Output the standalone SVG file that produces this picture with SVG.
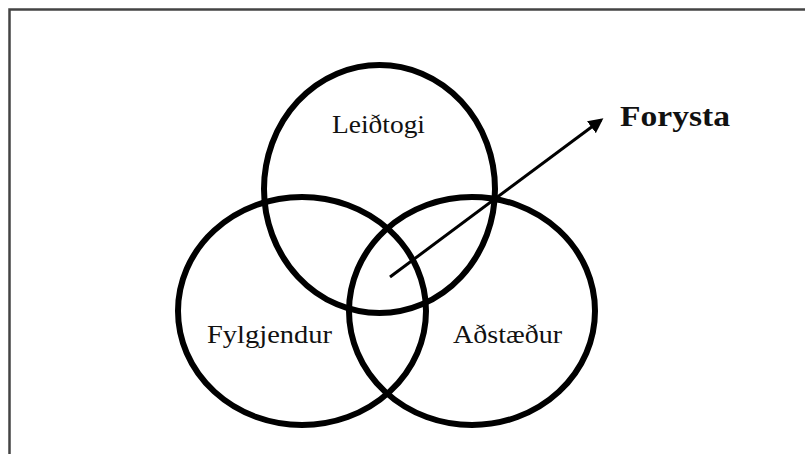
<svg xmlns="http://www.w3.org/2000/svg" width="805" height="454" viewBox="0 0 805 454">
<style>
.ring{fill:none;stroke:#000;stroke-width:6}
.lbl{font-family:"Liberation Serif","Times New Roman",serif;fill:#111;font-size:26px}
.bold{font-weight:bold;font-size:30px}
</style>
<defs>
<marker id="ah" markerWidth="5" markerHeight="5" refX="4" refY="2.5" orient="auto" markerUnits="strokeWidth">
<path d="M0,0 L5,2.5 L0,5 Z" fill="#000"/>
</marker>
</defs>
<rect width="805" height="454" fill="#fff"/>
<rect x="9.5" y="9.5" width="820" height="470" fill="none" stroke="#444" stroke-width="2.5"/>
<g id="leidtogi">
<ellipse class="ring" cx="379.5" cy="189" rx="115.5" ry="124"/>
<text class="lbl" x="332" y="133" textLength="93" lengthAdjust="spacingAndGlyphs" font-size="24">Leiðtogi</text>
</g>
<g id="fylgjendur">
<ellipse class="ring" cx="302" cy="311" rx="124" ry="114"/>
<text class="lbl" x="207" y="343" textLength="125" lengthAdjust="spacingAndGlyphs">Fylgjendur</text>
</g>
<g id="adstaedur">
<ellipse class="ring" cx="472" cy="311" rx="123" ry="114"/>
<text class="lbl" x="453" y="343" textLength="109" lengthAdjust="spacingAndGlyphs">Aðstæður</text>
</g>
<g id="forysta">
<text class="lbl bold" x="620" y="126" textLength="110" lengthAdjust="spacingAndGlyphs">Forysta</text>
</g>
<g id="connectors">
<line x1="390" y1="277" x2="601" y2="120" stroke="#000" stroke-width="3" marker-end="url(#ah)"/>
</g>
</svg>
